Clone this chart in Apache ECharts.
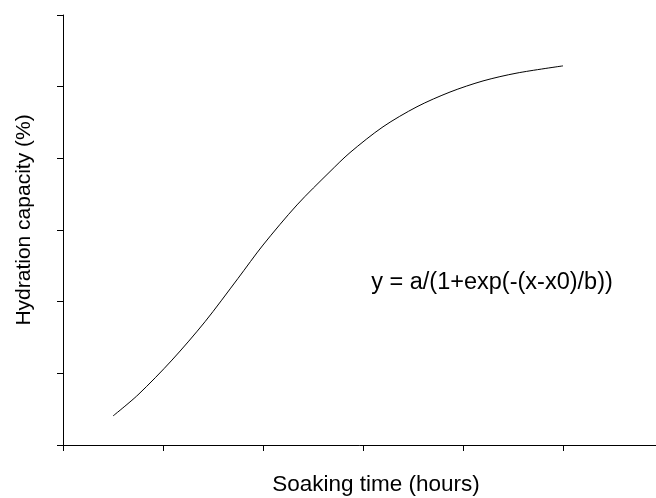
<!DOCTYPE html>
<html>
<head>
<meta charset="utf-8">
<script src="https://cdn.jsdelivr.net/npm/echarts@6/dist/echarts.min.js"></script>
<style>
  html, body { margin: 0; padding: 0; background: #fff; }
  #main { width: 656px; height: 498px; }
</style>
</head>
<body>
<div id="main"></div>
<script>
// fitted sigmoid
var hours = [0.50, 0.75, 1.09, 1.42, 1.75, 2.00, 2.34, 2.67, 2.87, 3.20, 3.54, 3.87, 4.20, 4.54, 5.00];
var hydration = [8.1, 14.0, 23.7, 34.4, 46.5, 55.8, 67.0, 76.3, 81.6, 88.8, 94.4, 98.5, 101.6, 103.8, 105.8];

var xTitle = 'Soaking time (hours)';
var yTitle = 'Hydration capacity (%)';
var formula = 'y = a/(1+exp(-(x-x0)/b))';

var font = 'Arial, "Liberation Sans", sans-serif';

var chart = echarts.init(document.getElementById('main'));

var axisCommon = {
    type: 'value',
    splitLine: { show: false },
    axisLabel: { show: false },
    axisLine: { show: true, onZero: false, lineStyle: { color: '#000', width: 1 } },
    axisTick: { show: true, inside: false, length: 6, lineStyle: { color: '#000', width: 1 } }
};

chart.setOption({
    animation: false,
    backgroundColor: '#fff',
    grid: { left: 63, top: 15, width: 600, height: 430, outerBoundsMode: 'none', containLabel: false },
    xAxis: Object.assign({}, axisCommon, { min: 0, max: 6, interval: 1 }),
    yAxis: Object.assign({}, axisCommon, { min: 0, max: 120, interval: 20 }),
    series: [{
        type: 'line',
        data: hours.map(function (h, i) { return [h, hydration[i]]; }),
        smooth: 0.3,
        showSymbol: false,
        lineStyle: { color: '#000', width: 1 }
    }],
    graphic: [
        {
            type: 'text', x: 492, y: 283,
            style: { text: formula, font: '23.5px ' + font, fill: '#000', align: 'center', verticalAlign: 'middle' }
        },
        {
            type: 'text', x: 376, y: 485,
            style: { text: xTitle, font: '22.5px ' + font, fill: '#000', align: 'center', verticalAlign: 'middle' }
        },
        {
            type: 'text', x: 24, y: 220, rotation: Math.PI / 2,
            style: { text: yTitle, font: '21px ' + font, fill: '#000', align: 'center', verticalAlign: 'middle' }
        }
    ]
});
</script>
</body>
</html>
